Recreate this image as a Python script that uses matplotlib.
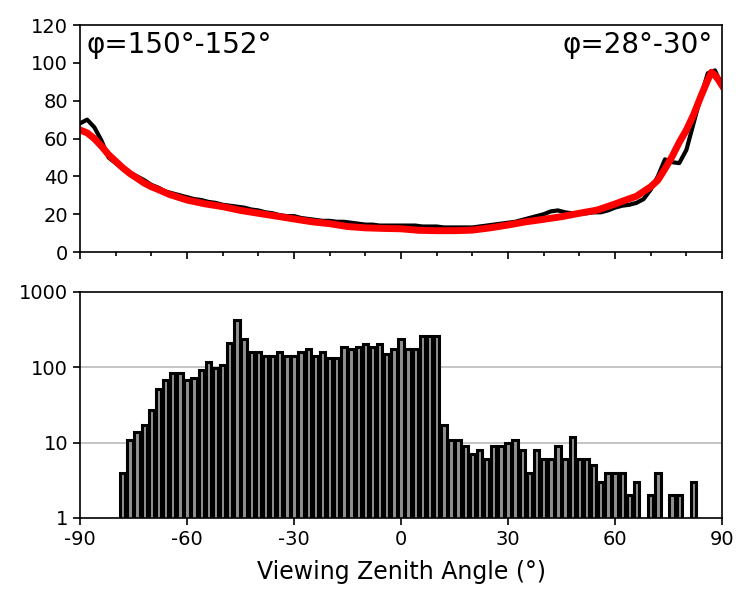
import numpy as np
import matplotlib
matplotlib.use('Agg')
import matplotlib.pyplot as plt
from matplotlib.ticker import MultipleLocator, FixedLocator, NullLocator, FuncFormatter

# measured radiance vs viewing zenith angle (black line)
vza_measured = list(range(-90, 92, 2))
radiance_measured = [
    68, 70, 66, 59, 50, 47, 44, 42, 40, 38,
    35.5, 34, 32, 31, 30, 29, 28, 27.5, 26.5, 26,
    25, 24.5, 24, 23.5, 22.5, 22, 21, 20.5, 19.5, 19,
    19, 18, 17.5, 17, 16.5, 16.5, 16, 16, 15.5, 15,
    14.5, 14.5, 14, 14, 14, 14, 14, 14, 13.5, 13.5,
    13.5, 13, 13, 13, 13, 13, 13.5, 14, 14.5, 15,
    15.5, 16, 17, 18, 19, 20, 21.5, 22, 21, 20.5,
    20.5, 20.5, 21, 21, 22, 23.5, 24.5, 25, 26, 28,
    33, 40, 49, 47.5, 47, 54, 68, 82, 94.5, 96,
    88,
]

# model radiance (red line)
vza_model = [-90, -88, -86, -84, -82, -80, -78, -76, -74, -72, -70, -68, -65,
             -60, -55, -50, -45, -40, -35, -30, -25, -20, -15, -10, -5, 0,
             5, 10, 15, 20, 25, 30, 35, 40, 45, 50, 55, 60, 63, 66, 68, 70,
             72, 74, 76, 78, 80, 82, 84, 86, 87, 88, 89, 90]
radiance_model = [64.5, 63, 60, 56, 51.5, 48, 44.5, 41.5, 39, 36.5, 34.5, 33, 30.5,
                  27.5, 25.5, 24, 22, 20.5, 19, 17.5, 16, 15, 13.5, 12.8, 12.5, 12.3,
                  11.5, 11.3, 11.3, 11.6, 12.8, 14.3, 16, 17.3, 18.7, 20.5, 22.2, 25.4,
                  27.5, 29.5, 32, 34.5, 38, 44, 50.5, 58, 64.5, 72.5, 82, 91, 95, 93.5,
                  91, 88]

# number of observations per 2 degree bin
bin_centers = list(range(-78, 84, 2))
counts = [
    4, 11, 14, 17, 27, 52, 67, 84, 84, 67,
    73, 93, 117, 99, 106, 208, 422, 237, 162, 162,
    143, 143, 162, 143, 143, 162, 175, 143, 162, 134,
    134, 188, 175, 188, 204, 188, 204, 148, 175, 237,
    175, 175, 262, 262, 262, 17, 11, 11, 9, 7,
    8, 6, 9, 9, 10, 11, 8, 4, 8, 6,
    6, 9, 6, 12, 6, 6, 5, 3, 4, 4,
    4, 2, 3, 0, 2, 4, 0, 2, 2, 0,
    3,
]

labels = ['\u03c6=150\u00b0-152\u00b0', '\u03c6=28\u00b0-30\u00b0']


def main():
    plt.rcParams['axes.unicode_minus'] = False
    fig = plt.figure(figsize=(7.38, 6.03), dpi=100)
    ax1 = fig.add_axes([0.1084, 0.582, 0.870, 0.3765])
    ax2 = fig.add_axes([0.1084, 0.141, 0.870, 0.3748])

    # top panel
    ax1.plot(vza_measured, radiance_measured, color='black', lw=3, zorder=2)
    ax1.plot(vza_model, radiance_model, color='red', lw=5, zorder=3)
    ax1.set_xlim(-90, 90)
    ax1.set_ylim(0, 120)
    ax1.yaxis.set_major_locator(MultipleLocator(20))
    ax1.xaxis.set_major_locator(MultipleLocator(30))
    ax1.xaxis.set_minor_locator(MultipleLocator(10))
    ax1.set_xticklabels([])
    ax1.text(0.01, 0.975, labels[0], transform=ax1.transAxes, ha='left', va='top', fontsize=20)
    ax1.text(0.985, 0.975, labels[1], transform=ax1.transAxes, ha='right', va='top', fontsize=20)

    # bottom panel
    x = np.array(bin_centers)
    c = np.array(counts)
    m = c > 0
    ax2.bar(x[m], c[m], width=1.5, facecolor='#909090', edgecolor='black',
            linewidth=2.2, zorder=2)
    ax2.set_yscale('log')
    ax2.set_ylim(1, 1000)
    ax2.set_xlim(-90, 90)
    ax2.yaxis.set_major_locator(FixedLocator([1, 10, 100, 1000]))
    ax2.yaxis.set_minor_locator(NullLocator())
    ax2.yaxis.set_major_formatter(FuncFormatter(lambda v, p: '%d' % v))
    ax2.xaxis.set_major_locator(MultipleLocator(30))
    for v in [10, 100]:
        ax2.axhline(v, color='#c0c0c0', lw=1.3, zorder=1)
    ax2.set_xlabel('Viewing Zenith Angle (\u00b0)', fontsize=17, labelpad=8)

    for ax in (ax1, ax2):
        for s in ax.spines.values():
            s.set_linewidth(1.2)
            s.set_zorder(5)
        ax.tick_params(which='major', direction='out', length=5, width=1.2, labelsize=14)
        ax.tick_params(which='minor', direction='out', length=3, width=1.2)

    fig.savefig('out.png', dpi=100)


if __name__ == "__main__":
    main()
